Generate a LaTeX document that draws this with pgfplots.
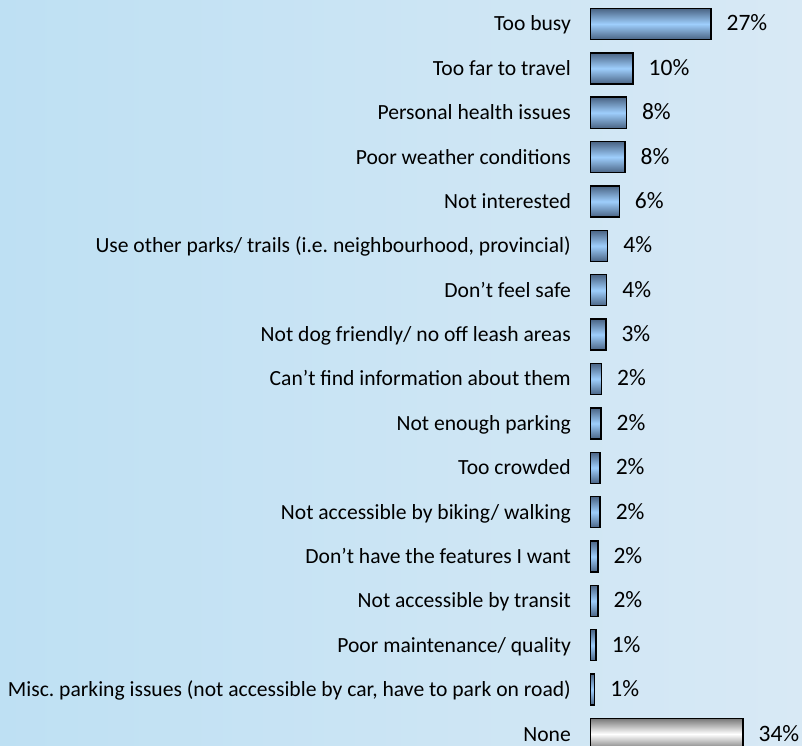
\documentclass[border=0pt]{standalone}
\usepackage{fontspec}
\setmainfont{Carlito}
\usepackage{pgfplots}
\pgfplotsset{compat=1.18}
\usepackage{pgfplotstable}
\definecolor{bgleft}{RGB}{190,224,243}
\definecolor{bgright}{RGB}{216,233,245}
\definecolor{bardark}{RGB}{74,100,132}
\definecolor{barlight}{RGB}{158,206,252}
\definecolor{nonedark}{RGB}{120,120,120}

% y = row position (None at bottom), v = bar length, lab = printed percent
\pgfplotstableread{
y v lab
16 27.1 27
15 9.6 10
14 8.1 8
13 7.8 8
12 6.5 6
11 3.9 4
10 3.7 4
9 3.5 3
8 2.5 2
7 2.4 2
6 2.2 2
5 2.2 2
4 1.7 2
3 1.7 2
2 1.3 1
1 1.0 1
}\reasons
\pgfplotstableread{
y v lab
0 34.3 34
}\nonerow

\begin{document}
\frenchspacing
\begin{tikzpicture}
\shade[left color=bgleft, right color=bgright] (0,0) rectangle (802pt,745pt);
\useasboundingbox (0,0) rectangle (802pt,745pt);
\begin{axis}[
    at={(590.3pt,0pt)}, anchor=south west,
    scale only axis,
    width=178pt, height=745pt,
    xmin=0, xmax=40,
    ymin=-0.248, ymax=16.54,
    xbar, bar width=0.7, bar shift=0pt,
    axis line style={draw=none},
    tick style={draw=none},
    xtick=\empty,
    ytick={0,...,16},
    yticklabels={None,
        {Misc. parking issues (not accessible by car, have to park on road)},
        Poor maintenance/ quality,
        Not accessible by transit,
        Don't have the features I want,
        Not accessible by biking/ walking,
        Too crowded,
        Not enough parking,
        Can't find information about them,
        Not dog friendly/ no off leash areas,
        Don't feel safe,
        {Use other parks/ trails (i.e. neighbourhood, provincial)},
        Not interested,
        Poor weather conditions,
        Personal health issues,
        Too far to travel,
        Too busy},
    yticklabel style={font=\fontsize{21.6}{24}\selectfont, inner sep=0pt,
        text height=12pt, text depth=6pt, xshift=-15pt, yshift=-4pt},
    point meta=explicit,
    /pgf/number format/assume math mode=true,
    nodes near coords={\pgfmathprintnumber{\pgfplotspointmeta}\%},
    nodes near coords style={font=\fontsize{23.5}{26}\selectfont, anchor=west, inner sep=0pt,
        text height=12pt, text depth=6pt, xshift=15pt, yshift=-4pt},
    clip=false,
]
% one plot per bar so each bar gets its own gradient
\pgfplotsinvokeforeach{1,...,16}{
\addplot[draw=black, line width=1.4pt,
    top color=bardark, bottom color=bardark, middle color=barlight,
    restrict y to domain=#1:#1]
    table[x=v, y=y, meta=lab] {\reasons};
}
\addplot[draw=black, line width=1.4pt,
    top color=nonedark, bottom color=nonedark, middle color=white]
    table[x=v, y=y, meta=lab] {\nonerow};
\end{axis}
\end{tikzpicture}
\end{document}
